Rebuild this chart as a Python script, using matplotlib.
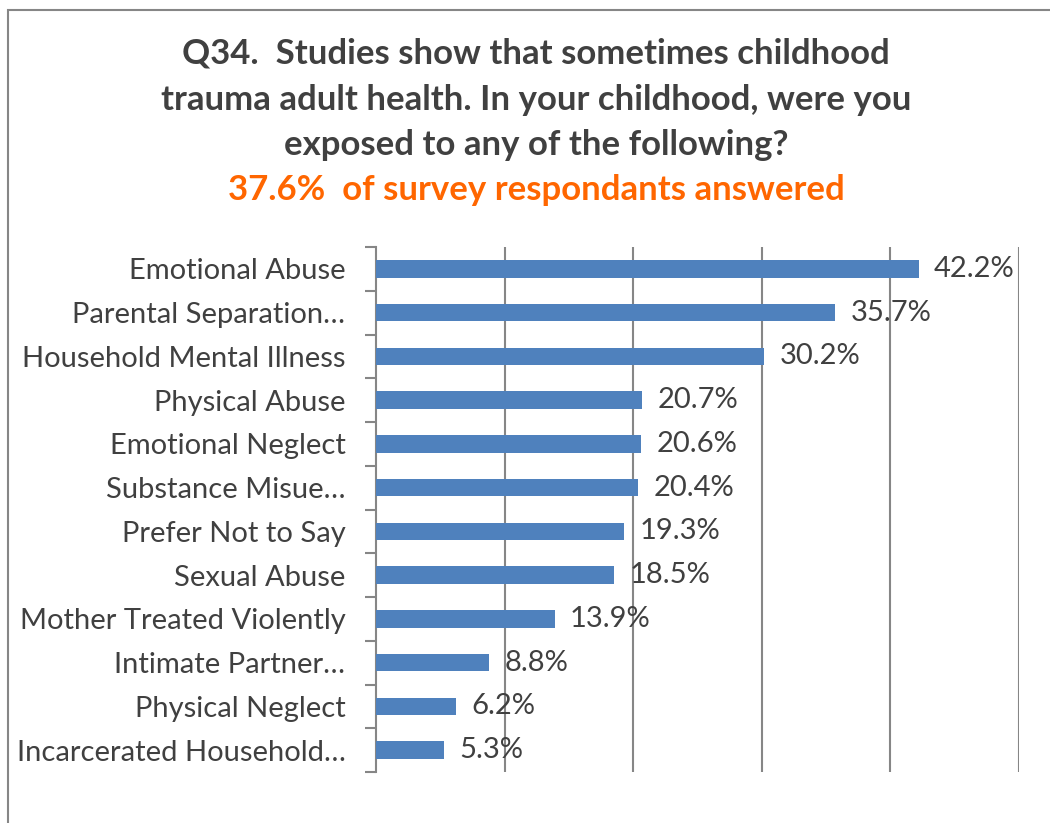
import numpy as np
import matplotlib.pyplot as plt
from matplotlib.patches import Rectangle
from matplotlib.ticker import FixedLocator

# Datos del gráfico (de arriba hacia abajo)
categories = [
    "Emotional Abuse",
    "Parental Separation…",
    "Household Mental Illness",
    "Physical Abuse",
    "Emotional Neglect",
    "Substance Misue…",
    "Prefer Not to Say",
    "Sexual Abuse",
    "Mother Treated Violently",
    "Intimate Partner…",
    "Physical Neglect",
    "Incarcerated Household…",
]
values = [42.2, 35.7, 30.2, 20.7, 20.6, 20.4, 19.3, 18.5, 13.9, 8.8, 6.2, 5.3]
value_labels = ["42.2%", "35.7%", "30.2%", "20.7%", "20.6%", "20.4%",
                "19.3%", "18.5%", "13.9%", "8.8%", "6.2%", "5.3%"]

title_lines = [
    "Q34.  Studies show that sometimes childhood",
    "trauma adult health. In your childhood, were you",
    "exposed to any of the following?",
]
subtitle = "37.6%  of survey respondants answered"

plt.rcParams['font.family'] = ['Lato', 'DejaVu Sans']

BLUE = "#4F81BD"
GRID = "#868686"
TEXT = "#404040"
ORANGE = "#FF6600"

W, H = 1050, 823
fig = plt.figure(figsize=(W / 100, H / 100), dpi=100)

# Marco del gráfico (recortado a la derecha y abajo)
fig.patches.append(Rectangle((8 / W, -0.1), 1.2, 1 - 10 / H + 0.1,
                             transform=fig.transFigure, fill=False,
                             edgecolor=GRID, linewidth=1.5))

ax = fig.add_axes([376 / W, 1 - 772 / H, (1019 - 376) / W, (772 - 247) / H])

y = np.arange(len(categories))
ax.barh(y, values, height=0.4, color=BLUE, zorder=3)

ax.set_xlim(0, 50)
ax.set_ylim(len(categories) - 0.5, -0.5)
ax.set_xticks([10, 20, 30, 40, 50])
ax.tick_params(axis='x', length=0, labelbottom=False)
ax.grid(axis='x', color=GRID, linewidth=1.5, zorder=0)

ax.set_yticks(y)
ax.set_yticklabels(categories, fontsize=21, color=TEXT)
ax.tick_params(axis='y', which='major', length=0, pad=22)
ax.yaxis.set_minor_locator(FixedLocator(np.arange(-0.5, len(categories), 1)))
ax.tick_params(axis='y', which='minor', length=8, width=1.5, color=GRID)

for s in ['top', 'right', 'bottom']:
    ax.spines[s].set_visible(False)
ax.spines['left'].set_color(GRID)
ax.spines['left'].set_linewidth(1.5)

for yi, v, lab in zip(y, values, value_labels):
    ax.annotate(lab, (v, yi), xytext=(11, 0), textcoords='offset points',
                va='center', ha='left', fontsize=21, color=TEXT, zorder=4)

title_y = [53, 100, 145]
for t, ty in zip(title_lines, title_y):
    fig.text(536 / W, 1 - ty / H, t, ha='center', va='center',
             fontsize=25, fontweight='bold', color=TEXT)
fig.text(536 / W, 1 - 190 / H, subtitle, ha='center', va='center',
         fontsize=25, fontweight='bold', color=ORANGE)

fig.savefig("out.png", dpi=100)
